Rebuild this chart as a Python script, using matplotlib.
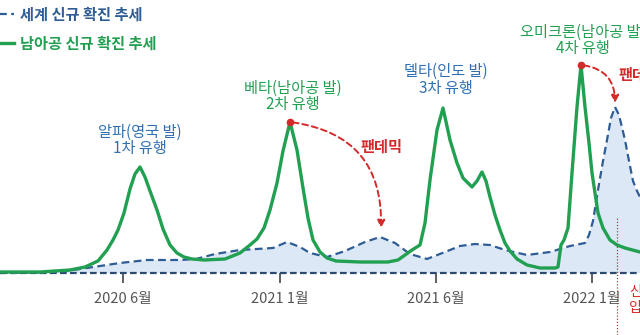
import matplotlib.pyplot as plt
from matplotlib.patches import FancyArrowPatch

plt.rcParams['font.family'] = ['Noto Sans CJK KR', 'DejaVu Sans']

# 가로축: 그림 위 위치(임의 단위), 세로축: 신규 확진 추세(임의 단위)
world_x = [0, 60, 80, 100, 120, 147, 180, 196, 215, 240, 273, 287, 300, 310, 327,
           345, 365, 380, 395, 410, 427, 445, 460, 475, 490, 505, 527, 550, 570,
           585, 589, 593, 598, 603, 607, 611, 615, 619, 625, 629, 633, 637, 640]
world_y = [0, 1, 4, 7, 10, 13, 13, 14, 19, 23, 25, 31, 26, 20, 16,
           22, 31, 36, 30, 19, 14, 21, 27, 29, 28, 23, 18, 21, 27,
           30, 38, 52, 83, 112, 133, 155, 166, 158, 133, 112, 92, 82, 76]

sa_x = [0, 40, 70, 85, 98, 107, 113, 118, 124, 130, 135, 140, 145, 150, 157, 163,
        170, 177, 184, 192, 204, 225, 240, 250, 257, 264, 270, 277, 283, 290, 297,
        303, 308, 313, 320, 327, 336, 360, 388, 398, 405, 412, 420, 425, 430, 437,
        443, 450, 457, 463, 472, 477, 482, 486, 490, 495, 500, 505, 510, 517, 527,
        540, 555, 558, 561, 564, 568, 572, 577, 581, 585, 589, 592, 595, 598, 603,
        610, 617, 625, 640]
sa_y = [1, 1, 3, 6, 12, 23, 33, 43, 60, 84, 99, 106, 96, 82, 63, 44,
        28, 20, 16, 14, 13, 14, 20, 28, 34, 45, 63, 90, 122, 151, 123,
        85, 55, 33, 21, 15, 12, 11, 11, 13, 18, 23, 28, 50, 93, 143,
        165, 133, 110, 95, 86, 92, 101, 92, 76, 58, 43, 30, 22, 14, 8,
        5, 5, 6, 28, 33, 45, 100, 166, 208, 166, 130, 100, 80, 60, 45,
        33, 28, 25, 21]

tick_pos = [123, 280, 436, 592]
tick_labels = ['2020 6월', '2021 1월', '2021 6월', '2022 1월']

waves = ['알파(영국 발)', '베타(남아공 발)', '델타(인도 발)', '오미크론(남아공 발)']
wave_names = ['1차 유행', '2차 유행', '3차 유행', '4차 유행']
wave_x = [140, 293, 446, 583]
wave_y = [141, 185, 202, 241]
wave_src = ['world', 'sa', 'world', 'sa']

# 팬데믹 화살표: 남아공 정점 -> 세계 정점
arrow_from = [(290, 151), (581, 208)]
arrow_to = [(381, 45), (615, 170)]
pandemic_x = [381, 618]
pandemic_y = [126, 198]

blue = '#2e5c94'
blue_txt = '#2f6fb3'
green = '#22a052'
red = '#d42a2a'

fig = plt.figure(figsize=(6.4, 3.35), dpi=100)
ax = fig.add_axes([0, 0, 1, 1])
ax.set_xlim(0, 640)
ax.set_ylim(-62, 273)

ax.fill_between(world_x, 0, world_y, color='#dce8f5', lw=0, zorder=1)
ax.axhline(0, color='#2c4a6e', lw=1.6, ls=(0, (3, 1.5)), zorder=2)
ax.plot(world_x, world_y, color=blue, lw=1.6, ls=(0, (3.5, 2)),
        label='세계 신규 확진 추세', zorder=3)
ax.plot(sa_x, sa_y, color=green, lw=2.4, solid_joinstyle='round',
        label='남아공 신규 확진 추세', zorder=4)

for name, sub, x, y, src in zip(waves, wave_names, wave_x, wave_y, wave_src):
    c = blue_txt if src == 'world' else green
    ax.text(x, y, name, ha='center', va='center', fontsize=11, color=c,
            fontweight='medium')
    ax.text(x, y - 17, sub, ha='center', va='center', fontsize=11, color=c,
            fontweight='medium')

for (x0, y0), (x1, y1) in zip(arrow_from, arrow_to):
    ax.plot([x0], [y0], 'o', color=red, ms=4.5, zorder=6)
    arr = FancyArrowPatch((x0, y0), (x1, y1), connectionstyle='arc3,rad=-0.45',
                          arrowstyle='-|>', mutation_scale=11, color=red,
                          lw=1.4, ls=(0, (3, 2)), shrinkA=2, shrinkB=0, zorder=6)
    ax.add_patch(arr)

ax.text(pandemic_x[0], pandemic_y[0], '팬데믹', ha='center', va='center',
        fontsize=11, color=red, fontweight='bold')
ax.text(pandemic_x[1], pandemic_y[1], '팬데믹', ha='left', va='center',
        fontsize=11, color=red, fontweight='bold')

ax.axvline(617, ymin=0, ymax=(56 + 62) / 335, color='#c03048', lw=0.9,
           ls=(0, (1, 1.5)), zorder=5)
ax.text(629, -19, '신', ha='left', va='center', fontsize=10, color=red)
ax.text(629, -35, '입', ha='left', va='center', fontsize=10, color=red)

ax.set_xticks(tick_pos)
ax.set_xticklabels(tick_labels)
ax.set_yticks([])
ax.spines['bottom'].set_position(('data', 0))
for s in ax.spines.values():
    s.set_visible(False)
ax.tick_params(axis='x', length=7, width=1.1, color='#333333', pad=7,
               labelsize=10.5, labelcolor='#555555')

ax.legend(loc='upper left', bbox_to_anchor=(-0.016, 1 - 6.5 / 335), frameon=False,
          borderaxespad=0, borderpad=0, handlelength=1.6, handletextpad=0.4,
          labelspacing=0.85, labelcolor='linecolor',
          prop={'size': 11, 'weight': 'bold'})

fig.savefig('out.png', dpi=100)
